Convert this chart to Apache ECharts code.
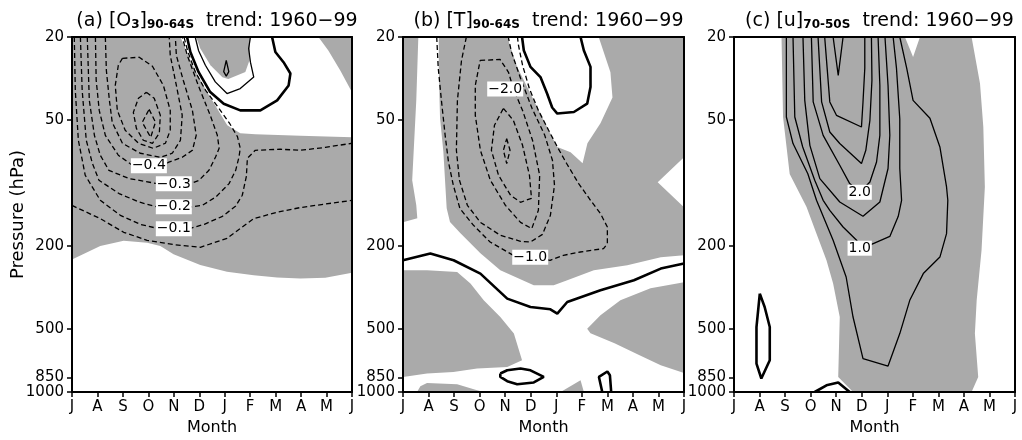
<!DOCTYPE html>
<html>
<head>
<meta charset="utf-8">
<script src="https://cdn.jsdelivr.net/npm/echarts@6/dist/echarts.min.js"></script>
<style>
  html, body { margin: 0; padding: 0; background: #ffffff; }
  #chart { width: 1022px; height: 440px; }
</style>
</head>
<body>
<div id="chart"></div>
<script>
// Month axis runs July .. June; pressure axis is logarithmic (hPa).
const MONTHS = ['J', 'A', 'S', 'O', 'N', 'D', 'J', 'F', 'M', 'A', 'M', 'J'];
const PRESSURE_TICKS = [20, 50, 200, 500, 850];
const PRESSURE_BOTTOM = [1000];

// ---------- (a) ozone trend, 90-64S ----------
// Points are [month index (0 = Jul), pressure hPa].
const O3_SHADED = [
  [[0,20],[4.26,20],[4.65,25.9],[5.16,34.1],[5.63,42.5],[6.10,52.9],[6.61,57.7],[7.2,58.4],[8.97,59.3],[11,60.3],[11,269],[9.95,284],[8.97,286],[8.06,283],[7.14,276],[6.09,266],[5.04,247],[3.99,219],[3.47,200],[2.95,193],[2.03,189],[1.11,200],[0,232]],
  [[4.88,20],[7.0,20],[6.97,25.9],[6.81,29.4],[6.14,31.8],[5.91,31.2],[5.44,27.3],[5.04,22.7]],
  [[9.68,20],[11,20],[11,36.8],[10.54,28.9],[10.07,23.2]]
];
const O3_NEGATIVE = [
  [[0,128],[1.11,148],[2.03,172],[2.95,188],[3.99,197],[5.04,203],[6.09,184],[6.61,165],[7.14,148],[8.06,138],[8.97,131],[9.95,126],[11,121]],
  [[0.09,20],[0.13,36],[0.25,62.4],[0.52,91.8],[1.11,120.9],[1.90,142.7],[2.68,157.6],[3.35,164.7],[4.65,164.7],[5.20,157.6],[5.91,144.3],[6.42,129.2],[6.69,114.4],[6.85,92.8],[6.89,76.1],[7.20,69.7],[8.18,68.9],[8.97,69.7],[9.95,67.5],[11,64.5]],
  [[0.33,20],[0.40,36],[0.56,62.4],[0.80,80.4],[1.06,97],[1.85,112.3],[2.63,123.2],[3.35,130.2],[4.65,130.2],[5.12,127.8],[5.65,116.6],[6.17,100.6],[6.43,86.9],[6.56,75.1],[6.61,68.2],[6.5,60],[6.2,52],[5.75,43.5],[5.25,36],[4.85,29.5],[4.55,23.5],[4.40,20]],
  [[0.60,20],[0.68,40.2],[0.88,59.1],[1.11,73.6],[1.45,86.9],[2.24,95.2],[3.35,100.6],[4.65,100.6],[4.99,97],[5.38,86.9],[5.64,75.1],[5.78,68.2],[5.71,59.1],[5.43,47.4],[4.96,34.1],[4.53,24.5],[4.33,20]],
  [[0.92,20],[0.95,32.2],[1.07,44.9],[1.31,59.1],[1.82,73.6],[2.37,82.2],[3.67,82.2],[3.78,79.6],[4.33,75.3],[4.73,69.7],[4.88,59.1],[4.73,44.9],[4.37,32.2],[4.10,24.5],[4.06,20]],
  [[1.31,20],[1.35,28.9],[1.47,40.2],[1.58,51.2],[1.98,64.5],[2.68,72],[3.47,75.3],[3.94,72],[4.26,62.4],[4.33,47.4],[4.10,34.1],[3.86,24.5],[3.82,20]],
  [[1.98,25.3],[2.64,25],[3.16,27.6],[3.59,34.1],[3.86,44.9],[3.86,55.9],[3.67,64.5],[3.19,68.2],[2.61,64.5],[2.09,55.9],[1.78,44.9],[1.70,34.1],[1.82,27.3],[1.98,25.3]],
  [[2.92,36.8],[3.23,39.3],[3.47,47.4],[3.43,57.8],[3.16,64.5],[2.80,62.4],[2.53,54.7],[2.41,45.9],[2.61,39.3],[2.92,36.8]],
  [[3.03,44.4],[3.28,51.2],[3.09,60.4],[2.76,51.2],[3.03,44.4]]
];
const O3_ZERO = [
  [[4.52,20],[4.65,23.6],[4.97,29.4],[5.43,36.7],[5.96,41.7],[6.61,44.9],[7.40,44.9],[8.06,40.2],[8.51,34.1],[8.58,29.9],[8.31,26.4],[7.99,23.6],[7.86,20]]
];
const O3_POSITIVE = [
  [[4.84,20],[4.97,23.2],[5.24,27.3],[5.63,32.8],[6.09,37.3],[6.61,35.3],[7.14,31.1],[7.01,26.4],[6.94,22.7],[7.01,20]],
  [[6.06,25.9],[6.16,29.3],[6.06,30.8],[5.96,29.3],[6.06,25.9]]
];
const O3_LABELS = [[3.02,82.6,'−0.4'],[4.0,100.9,'−0.3'],[4.0,129.9,'−0.2'],[4.0,165.5,'−0.1']];

// ---------- (b) temperature trend, 90-64S ----------
const T_SHADED = [
  [[0,20],[0.6,20],[0.52,40.2],[0.36,97],[0.52,127.8],[0.56,147.5],[0,154.2]],
  [[1.40,20],[4.08,20],[4.47,27.8],[5.12,40.2],[5.64,53.9],[6.04,67.2],[6.56,71.3],[7.03,80.4],[7.22,64.5],[7.73,51.8],[8.20,39.0],[8.12,29.5],[7.66,20],[11,20],[11,75.3],[9.97,99.2],[11,130.6],[11,221.7],[10.09,226.6],[8.78,247.5],[7.47,261.5],[6.43,292],[5.90,308.6],[5.12,308.6],[3.81,261.5],[3.03,216.9],[2.25,174],[1.84,153.7],[1.71,132.1],[1.58,70.8],[1.45,49],[1.40,28.2]],
  [[0,261.5],[0.94,261.5],[2.12,266.5],[2.64,302.9],[3.16,364.1],[3.81,437.7],[4.34,525.5],[4.66,705.2],[4.08,759],[2.90,772.4],[1.97,802],[0.94,816],[0,847]],
  [[7.21,497.7],[7.73,429.5],[8.51,364.1],[9.69,318.9],[11,298.5],[11,812],[10.09,745],[9.26,667],[8.28,585],[7.34,523.6]],
  [[0.55,1000],[0.68,937.6],[0.94,904.8],[2.12,917.9],[2.90,981],[3.16,1000]],
  [[6.17,1000],[6.95,879],[7.08,1000]]
];
const T_NEGATIVE = [
  [[1.32,20],[1.38,28.2],[1.51,40.9],[1.65,59.1],[1.78,79.3],[1.97,102.5],[2.23,132.6],[2.76,159.3],[3.41,191.5],[4.32,221.7],[4.99,226.6],[5.76,234.2],[6.28,221.7],[6.94,213.8],[7.85,205.9],[8.0,194.9],[8.0,162.3],[7.73,140],[7.34,120.9],[6.87,100.3],[6.40,80.4],[6.05,67.4],[5.70,55.9],[5.30,44.9],[4.95,35.4],[4.68,27.3],[4.52,21.9],[4.48,20]],
  [[2.48,20],[2.29,25.9],[2.13,40.2],[2.09,69.7],[2.21,97],[2.52,127.8],[3.03,154.2],[3.81,177.8],[4.60,190],[4.99,191.5],[5.46,176],[5.77,142.7],[5.93,102.5],[5.85,77.8],[5.55,59.1],[5.05,43.9],[4.6,31.5],[4.25,23.7],[4.12,20]],
  [[3.02,25.9],[3.80,25.6],[4.13,29.5],[4.32,35.4],[4.68,44.9],[5.07,62.4],[5.35,91.8],[5.30,135],[5.04,165.2],[4.60,154.2],[4.01,127.8],[3.42,97],[3.03,69.7],[2.83,47.4],[2.83,34.1],[3.02,25.9]],
  [[3.93,43.9],[4.32,50.1],[4.68,66],[4.95,91.8],[5.03,118.3],[4.60,123.6],[4.21,114.4],[3.74,91.8],[3.46,69.7],[3.58,52.9],[3.93,43.9]],
  [[4.06,61.3],[4.19,69.7],[4.06,80.7],[3.93,69.7],[4.06,61.3]]
];
const T_ZERO = [
  [[0,234.2],[1.07,217.6],[1.98,234.2],[3.03,271.2],[4.08,357.3],[4.99,391.9],[5.77,402.1],[6.04,421.6],[6.43,370.9],[7.73,326.1],[9.04,292],[10.09,256.7],[11,242.9]],
  [[4.66,20],[4.73,23.2],[4.99,27.8],[5.38,31.1],[5.64,37.3],[5.84,43.5],[6.04,46.5],[6.69,45.7],[7.21,41.7],[7.34,34.7],[7.34,27.8],[7.08,23.2],[6.95,20]],
  [[3.81,816],[4.08,787.3],[4.60,772.4],[4.99,787.3],[5.51,847],[5.12,900.3],[4.47,917.9],[4.08,887.5],[3.81,847],[3.81,816]],
  [[7.80,1000],[7.67,847],[8.0,797.5],[8.10,831.8],[8.15,1000]]
];
const T_LABELS = [[4.0,35.5,'−2.0'],[4.98,226.6,'−1.0']];

// ---------- (c) zonal wind trend, 70-50S ----------
const U_SHADED = [
  [[1.86,20],[6.69,20],[7.01,24.9],[7.28,20],[9.30,20],[9.63,33.4],[9.76,53.9],[9.82,104.4],[9.69,209.8],[9.50,364.1],[9.43,525.4],[9.56,847],[9.30,1000],[4.66,1000],[4.08,847],[4.14,437.7],[3.88,302.9],[3.62,234.2],[3.23,174.6],[2.84,130.2],[2.18,90.5],[1.92,48.3]]
];
const U_POSITIVE = [
  [[2.05,20],[2.05,48.3],[2.31,64.7],[2.89,90.2],[3.23,120.9],[3.88,187.9],[4.39,281.6],[4.66,437.7],[5.05,692],[6.03,750.9],[6.49,525.4],[6.88,364.1],[7.41,271.2],[8.06,226.1],[8.32,174.6],[8.37,120.9],[8.32,104.4],[8.06,67.2],[7.67,49],[7.01,40.2],[6.76,28.2],[6.49,20]],
  [[2.31,20],[2.38,48.3],[2.69,67.2],[3.16,97],[3.49,120.9],[3.75,135],[4.27,162.3],[4.80,187.9],[4.99,206.2],[5.45,194.9],[6.10,180.1],[6.43,144.2],[6.56,120.9],[6.49,85.2],[6.49,49.4],[6.36,28.2],[6.23,20]],
  [[2.70,20],[2.77,40.2],[2.97,66],[3.36,95.2],[4.14,123.2],[5.05,144.2],[5.71,123.2],[6.03,85.2],[6.10,59.1],[6.03,34.1],[5.91,20]],
  [[3.03,20],[3.10,40.9],[3.49,59.1],[4.14,82.2],[4.53,100.6],[4.93,110.7],[5.32,98.9],[5.58,79.3],[5.71,59.1],[5.71,34.1],[5.64,20]],
  [[3.29,20],[3.43,40.9],[3.75,57.0],[4.14,64.7],[4.99,80.7],[5.16,69.7],[5.32,50.1],[5.40,32.2],[5.38,20]],
  [[3.55,20],[3.75,40.9],[4.01,47.4],[4.99,53.9],[5.05,40.9],[5.12,28.2],[5.12,20]],
  [[3.88,20],[4.08,30.5],[4.27,20]]
];
const U_ZERO = [
  [[1.01,338.2],[1.20,392.1],[1.40,488.8],[1.40,705.2],[1.07,862],[0.88,731.2],[0.88,488.8],[1.01,338.2]],
  [[3.16,1000],[3.62,928.8],[4.08,900.3],[4.53,1000]]
];
const U_LABELS = [[4.92,110.7,'2.0'],[4.92,205,'1.0']];

// ---------- drawing ----------
const FONT = 'DejaVu Sans';
const SHADE = '#aaaaaa';
const lg = v => Math.log10(v);
const toXY = pts => pts.map(([m, p]) => [m, lg(p)]);

const PANELS = [
  { left: 72,  width: 280, shaded: O3_SHADED, neg: O3_NEGATIVE, zero: O3_ZERO, pos: O3_POSITIVE, labels: O3_LABELS,
    title: '(a) [O{s|3}]{s|90-64S}  trend: 1960−99' },
  { left: 403, width: 281, shaded: T_SHADED, neg: T_NEGATIVE, zero: T_ZERO, pos: [], labels: T_LABELS,
    title: '(b) [T]{s|90-64S}  trend: 1960−99' },
  { left: 734, width: 281, shaded: U_SHADED, neg: [], zero: U_ZERO, pos: U_POSITIVE, labels: U_LABELS,
    title: '(c) [u]{s|70-50S}  trend: 1960−99' }
];

const grid = [], xAxis = [], yAxis = [], series = [], title = [];
const axisLine = { show: true, onZero: false, lineStyle: { color: '#000', width: 2 } };
const tickStyle = { color: '#000', width: 1.5 };
const labelStyle = { color: '#000', fontFamily: FONT, fontSize: 15, margin: 8, showMinLabel: true, showMaxLabel: true,
                     formatter: v => String(Math.round(Math.pow(10, v))) };
const yBase = { type: 'value', min: lg(20), max: 3, inverse: true, z: 6, splitLine: { show: false } };

PANELS.forEach((pn, i) => {
  grid.push({ left: pn.left, top: 37, width: pn.width, height: 355, containLabel: false, outerBoundsMode: 'none' });
  title.push({
    text: pn.title, left: pn.left + pn.width / 2, top: 7, textAlign: 'center',
    textStyle: {
      fontFamily: FONT, fontSize: 19, fontWeight: 'normal', color: '#000',
      rich: { s: { fontFamily: FONT, fontSize: 12, fontWeight: 'bold', color: '#000', verticalAlign: 'bottom' } }
    }
  });
  xAxis.push({
    gridIndex: i, type: 'value', min: 0, max: 11, interval: 1, position: 'bottom', z: 6,
    axisLine, splitLine: { show: false },
    axisTick: { show: true, inside: false, length: 5, lineStyle: tickStyle },
    axisLabel: { color: '#000', fontFamily: FONT, fontSize: 15, margin: 8,
                 showMinLabel: true, showMaxLabel: true,
                 formatter: v => MONTHS[Math.round(v)] || '' },
    name: 'Month', nameLocation: 'middle', nameGap: 27,
    nameTextStyle: { color: '#000', fontFamily: FONT, fontSize: 16 }
  });
  xAxis.push({
    gridIndex: i, type: 'value', min: 0, max: 11, position: 'top', z: 6,
    axisLine, axisTick: { show: false }, axisLabel: { show: false }, splitLine: { show: false }
  });

  // main pressure axis (left)
  yAxis.push(Object.assign({}, yBase, {
    gridIndex: i, position: 'left', axisLine,
    axisTick: { show: true, inside: false, length: 5, customValues: PRESSURE_TICKS.map(lg), lineStyle: tickStyle },
    axisLabel: Object.assign({ customValues: PRESSURE_TICKS.map(lg) }, labelStyle)
  }, i === 0 ? {
    name: 'Pressure (hPa)', nameLocation: 'middle', nameGap: 45,
    nameTextStyle: { color: '#000', fontFamily: FONT, fontSize: 18 }
  } : {}));
  // frame on the right
  yAxis.push(Object.assign({}, yBase, {
    gridIndex: i, position: 'right', axisLine, axisTick: { show: false }, axisLabel: { show: false }
  }));
  // bottom pressure level, kept on its own axis so its label sits right under 850
  yAxis.push(Object.assign({}, yBase, {
    gridIndex: i, position: 'left', axisLine: { show: false },
    axisTick: { show: true, inside: false, length: 5, customValues: PRESSURE_BOTTOM.map(lg), lineStyle: tickStyle },
    axisLabel: Object.assign({ customValues: PRESSURE_BOTTOM.map(lg) }, labelStyle)
  }));

  const ax = { xAxisIndex: 2 * i, yAxisIndex: 3 * i };

  // shaded areas
  pn.shaded.forEach(poly => {
    const pts = toXY(poly);
    series.push(Object.assign({
      type: 'custom', silent: true, z: 1, data: pts,
      renderItem: (params, api) => params.dataIndex !== 0 ? null : {
        type: 'polygon', shape: { points: pts.map(pt => api.coord(pt)) }, style: { fill: SHADE }
      }
    }, ax));
  });

  // contour lines
  const addLines = (lines, width, type) => lines.forEach(line => {
    series.push(Object.assign({
      type: 'line', data: toXY(line), showSymbol: false, symbol: 'none', silent: true, z: 3,
      lineStyle: { color: '#000', width, type }
    }, ax));
  });
  addLines(pn.neg, 1.3, [5, 3]);
  addLines(pn.pos, 1.3, 'solid');
  addLines(pn.zero, 2.6, 'solid');

  // contour labels
  series.push(Object.assign({
    type: 'scatter', silent: true, z: 5, symbolSize: 0,
    itemStyle: { color: '#fff', opacity: 1 },
    data: pn.labels.map(([m, p, t]) => [m, lg(p), t]),
    label: {
      show: true, position: 'inside', formatter: prm => prm.data[2], opacity: 1,
      backgroundColor: '#ffffff', padding: [1, 1, 0, 1],
      color: '#000000', fontFamily: FONT, fontSize: 14
    }
  }, ax));
});

const chart = echarts.init(document.getElementById('chart'), null, { renderer: 'canvas' });
chart.setOption({ animation: false, backgroundColor: '#fff', title, grid, xAxis, yAxis, series });
</script>
</body>
</html>
